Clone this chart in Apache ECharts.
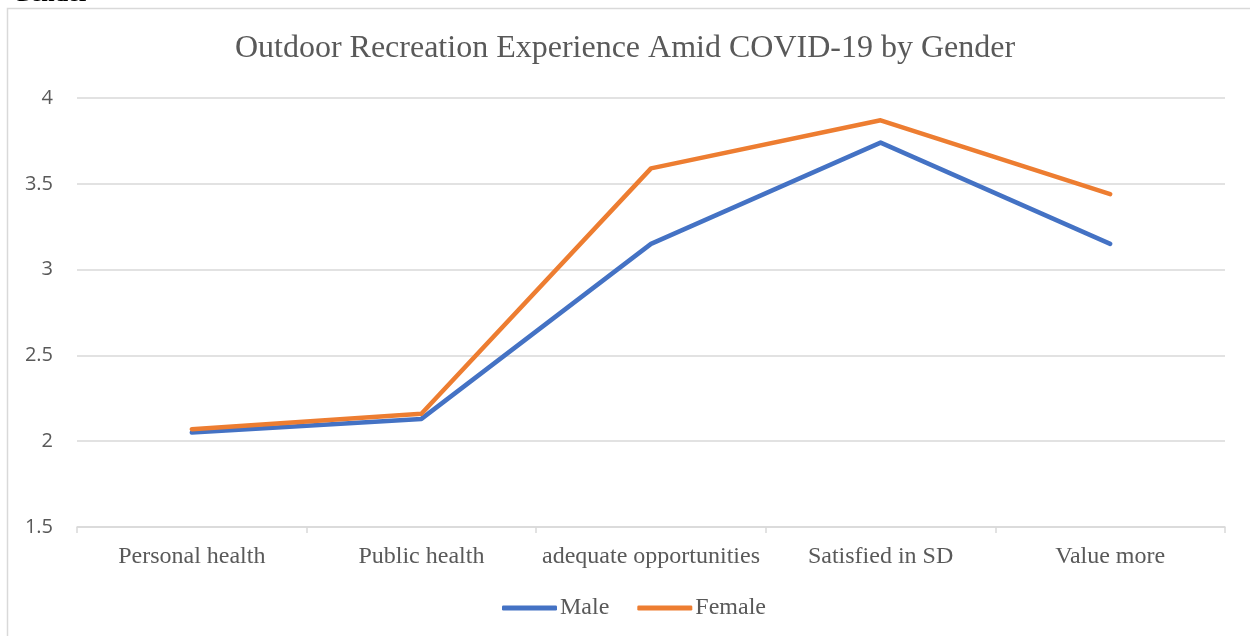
<!DOCTYPE html>
<html>
<head>
<meta charset="utf-8">
<script src="https://cdn.jsdelivr.net/npm/echarts@6/dist/echarts.min.js"></script>
<style>
  html, body { margin: 0; padding: 0; background: #fff; }
  #chart { width: 1250px; height: 636px; }
</style>
</head>
<body>
<div id="chart"></div>
<script>
const categories = ['Personal health', 'Public health', 'adequate opportunities', 'Satisfied in SD', 'Value more'];
const maleValues = [2.05, 2.13, 3.15, 3.74, 3.15];
const femaleValues = [2.07, 2.16, 3.59, 3.87, 3.44];
const yTicks = { min: 1.5, max: 4, interval: 0.5 };
const titleText = 'Outdoor Recreation Experience Amid COVID-19 by Gender';
const headingText = 'Gender';

const chart = echarts.init(document.getElementById('chart'), null, { renderer: 'canvas' });
const serif = '"Liberation Serif", "DejaVu Serif", serif';
const sans = '"Open Sans", "Noto Sans", "Liberation Sans", sans-serif';

chart.setOption({
  animation: false,
  backgroundColor: '#ffffff',
  graphic: [
    { type: 'rect', silent: true, z: -1,
      shape: { x: 7.5, y: 8.5, width: 1400, height: 800 },
      style: { fill: '#ffffff', stroke: '#d9d9d9', lineWidth: 1.5 } },
    { type: 'text', left: 12, top: -17, silent: true, z: 10,
      style: { text: headingText, font: 'bold 24px ' + serif, fill: '#000000' } }
  ],
  title: {
    text: titleText,
    left: 'center',
    top: 28,
    textStyle: { fontFamily: serif, fontWeight: 'normal', fontSize: 32, color: '#595959' }
  },
  legend: {
    bottom: 16,
    left: 502,
    padding: 0,
    itemWidth: 55,
    itemHeight: 5,
    itemGap: 28,
    icon: 'roundRect',
    textStyle: { fontFamily: serif, fontSize: 24, color: '#595959', padding: [0, 0, 0, -2] },
    data: ['Male', 'Female']
  },
  grid: { left: 77, right: 25, top: 98, bottom: 109, containLabel: false },
  xAxis: {
    type: 'category',
    data: categories,
    boundaryGap: true,
    axisLine: { lineStyle: { color: '#d9d9d9', width: 1.5 } },
    axisTick: { show: true, length: 6, lineStyle: { color: '#d9d9d9', width: 1.5 } },
    axisLabel: { interval: 0, fontFamily: serif, fontSize: 24, color: '#595959', margin: 18 }
  },
  yAxis: {
    type: 'value',
    min: yTicks.min,
    max: yTicks.max,
    interval: yTicks.interval,
    axisLine: { show: false },
    axisTick: { show: false },
    splitLine: { lineStyle: { color: '#d9d9d9', width: 1.5 } },
    axisLabel: { fontFamily: sans, fontSize: 20, color: '#595959', margin: 24 }
  },
  series: [
    { name: 'Male', type: 'line', data: maleValues, symbol: 'none',
      lineStyle: { color: '#4472c4', width: 4.5, cap: 'round', join: 'round' },
      itemStyle: { color: '#4472c4' } },
    { name: 'Female', type: 'line', data: femaleValues, symbol: 'none',
      lineStyle: { color: '#ed7d31', width: 4.5, cap: 'round', join: 'round' },
      itemStyle: { color: '#ed7d31' } }
  ]
});
</script>
</body>
</html>
